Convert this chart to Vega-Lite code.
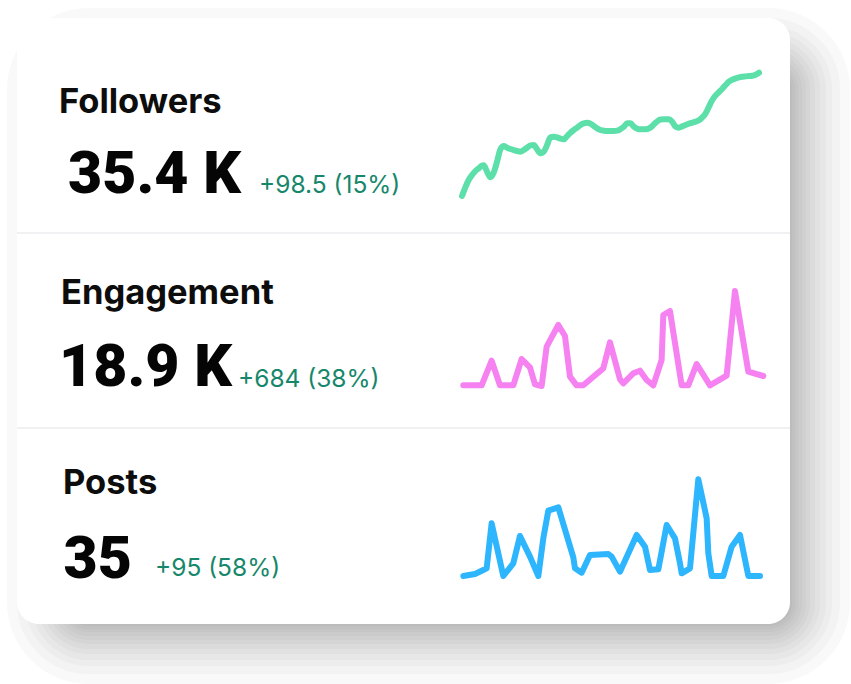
{
  "$schema": "https://vega.github.io/schema/vega-lite/v6.json",
  "description": "Social account summary card: three metrics with their totals, change and a 90-day sparkline.",
  "width": 773,
  "height": 606,
  "autosize": {"type": "none"},
  "padding": {"left": 17, "top": 18, "right": 61, "bottom": 60},
  "background": "#ffffff",
  "config": {"view": {"stroke": null, "fill": null}},
  "datasets": {
    "metrics": [
      {"metric": "Followers", "total": "35.4 K", "change": "+98.5 (15%)"},
      {"metric": "Engagement", "total": "18.9 K", "change": "+684 (38%)"},
      {"metric": "Posts", "total": "35", "change": "+95 (58%)"}
    ],
    "card": [{"card": "summary"}],
    "daily": [
      {"metric": "Followers", "t": 0, "value": 30000},
      {"metric": "Followers", "t": 2, "value": 30380},
      {"metric": "Followers", "t": 4, "value": 30701},
      {"metric": "Followers", "t": 6, "value": 30920},
      {"metric": "Followers", "t": 8, "value": 31095},
      {"metric": "Followers", "t": 10, "value": 31212},
      {"metric": "Followers", "t": 12, "value": 31329},
      {"metric": "Followers", "t": 13, "value": 31343},
      {"metric": "Followers", "t": 15, "value": 31066},
      {"metric": "Followers", "t": 17, "value": 30818},
      {"metric": "Followers", "t": 19, "value": 31022},
      {"metric": "Followers", "t": 21, "value": 31504},
      {"metric": "Followers", "t": 23, "value": 32044},
      {"metric": "Followers", "t": 25, "value": 32190},
      {"metric": "Followers", "t": 27, "value": 32117},
      {"metric": "Followers", "t": 29, "value": 32059},
      {"metric": "Followers", "t": 31, "value": 32015},
      {"metric": "Followers", "t": 33, "value": 31971},
      {"metric": "Followers", "t": 35, "value": 31942},
      {"metric": "Followers", "t": 37, "value": 32015},
      {"metric": "Followers", "t": 39, "value": 32117},
      {"metric": "Followers", "t": 41, "value": 32219},
      {"metric": "Followers", "t": 43, "value": 32234},
      {"metric": "Followers", "t": 45, "value": 32044},
      {"metric": "Followers", "t": 47, "value": 31869},
      {"metric": "Followers", "t": 49, "value": 31942},
      {"metric": "Followers", "t": 51, "value": 32234},
      {"metric": "Followers", "t": 53, "value": 32570},
      {"metric": "Followers", "t": 55, "value": 32599},
      {"metric": "Followers", "t": 57, "value": 32570},
      {"metric": "Followers", "t": 59, "value": 32511},
      {"metric": "Followers", "t": 61, "value": 32482},
      {"metric": "Followers", "t": 63, "value": 32628},
      {"metric": "Followers", "t": 65, "value": 32774},
      {"metric": "Followers", "t": 67, "value": 32891},
      {"metric": "Followers", "t": 69, "value": 32993},
      {"metric": "Followers", "t": 71, "value": 33110},
      {"metric": "Followers", "t": 73, "value": 33183},
      {"metric": "Followers", "t": 75, "value": 33212},
      {"metric": "Followers", "t": 77, "value": 33168},
      {"metric": "Followers", "t": 79, "value": 33066},
      {"metric": "Followers", "t": 81, "value": 32964},
      {"metric": "Followers", "t": 83, "value": 32891},
      {"metric": "Followers", "t": 85, "value": 32862},
      {"metric": "Followers", "t": 87, "value": 32847},
      {"metric": "Followers", "t": 89, "value": 32847},
      {"metric": "Followers", "t": 91, "value": 32847},
      {"metric": "Followers", "t": 93, "value": 32862},
      {"metric": "Followers", "t": 95, "value": 32935},
      {"metric": "Followers", "t": 97, "value": 33037},
      {"metric": "Followers", "t": 99, "value": 33183},
      {"metric": "Followers", "t": 101, "value": 33183},
      {"metric": "Followers", "t": 103, "value": 33037},
      {"metric": "Followers", "t": 105, "value": 32949},
      {"metric": "Followers", "t": 107, "value": 32920},
      {"metric": "Followers", "t": 109, "value": 32920},
      {"metric": "Followers", "t": 111, "value": 32935},
      {"metric": "Followers", "t": 113, "value": 33000},
      {"metric": "Followers", "t": 115, "value": 33140},
      {"metric": "Followers", "t": 117, "value": 33270},
      {"metric": "Followers", "t": 119, "value": 33350},
      {"metric": "Followers", "t": 121, "value": 33358},
      {"metric": "Followers", "t": 124, "value": 33358},
      {"metric": "Followers", "t": 126, "value": 33256},
      {"metric": "Followers", "t": 128, "value": 33037},
      {"metric": "Followers", "t": 130, "value": 32993},
      {"metric": "Followers", "t": 132, "value": 33051},
      {"metric": "Followers", "t": 134, "value": 33110},
      {"metric": "Followers", "t": 136, "value": 33168},
      {"metric": "Followers", "t": 138, "value": 33212},
      {"metric": "Followers", "t": 140, "value": 33256},
      {"metric": "Followers", "t": 142, "value": 33314},
      {"metric": "Followers", "t": 144, "value": 33446},
      {"metric": "Followers", "t": 146, "value": 33621},
      {"metric": "Followers", "t": 148, "value": 33913},
      {"metric": "Followers", "t": 150, "value": 34205},
      {"metric": "Followers", "t": 152, "value": 34409},
      {"metric": "Followers", "t": 154, "value": 34555},
      {"metric": "Followers", "t": 156, "value": 34701},
      {"metric": "Followers", "t": 158, "value": 34862},
      {"metric": "Followers", "t": 160, "value": 35008},
      {"metric": "Followers", "t": 162, "value": 35095},
      {"metric": "Followers", "t": 164, "value": 35154},
      {"metric": "Followers", "t": 166, "value": 35198},
      {"metric": "Followers", "t": 168, "value": 35227},
      {"metric": "Followers", "t": 170, "value": 35241},
      {"metric": "Followers", "t": 172, "value": 35256},
      {"metric": "Followers", "t": 174, "value": 35271},
      {"metric": "Followers", "t": 176, "value": 35314},
      {"metric": "Followers", "t": 178, "value": 35402},

      {"metric": "Engagement", "t": 0, "value": 70},
      {"metric": "Engagement", "t": 11, "value": 70},
      {"metric": "Engagement", "t": 17, "value": 440},
      {"metric": "Engagement", "t": 22, "value": 70},
      {"metric": "Engagement", "t": 30, "value": 70},
      {"metric": "Engagement", "t": 35, "value": 465},
      {"metric": "Engagement", "t": 40, "value": 340},
      {"metric": "Engagement", "t": 43, "value": 85},
      {"metric": "Engagement", "t": 47, "value": 60},
      {"metric": "Engagement", "t": 50, "value": 650},
      {"metric": "Engagement", "t": 57, "value": 975},
      {"metric": "Engagement", "t": 61, "value": 810},
      {"metric": "Engagement", "t": 64, "value": 200},
      {"metric": "Engagement", "t": 68, "value": 70},
      {"metric": "Engagement", "t": 72, "value": 70},
      {"metric": "Engagement", "t": 78, "value": 200},
      {"metric": "Engagement", "t": 84, "value": 325},
      {"metric": "Engagement", "t": 88, "value": 715},
      {"metric": "Engagement", "t": 94, "value": 160},
      {"metric": "Engagement", "t": 96, "value": 100},
      {"metric": "Engagement", "t": 102, "value": 250},
      {"metric": "Engagement", "t": 106, "value": 290},
      {"metric": "Engagement", "t": 110, "value": 150},
      {"metric": "Engagement", "t": 114, "value": 70},
      {"metric": "Engagement", "t": 119, "value": 450},
      {"metric": "Engagement", "t": 120, "value": 1125},
      {"metric": "Engagement", "t": 124, "value": 1185},
      {"metric": "Engagement", "t": 131, "value": 70},
      {"metric": "Engagement", "t": 135, "value": 70},
      {"metric": "Engagement", "t": 140, "value": 390},
      {"metric": "Engagement", "t": 148, "value": 70},
      {"metric": "Engagement", "t": 158, "value": 215},
      {"metric": "Engagement", "t": 163, "value": 1485},
      {"metric": "Engagement", "t": 171, "value": 275},
      {"metric": "Engagement", "t": 180, "value": 210},

      {"metric": "Posts", "t": 0, "value": 0},
      {"metric": "Posts", "t": 7, "value": 0.6},
      {"metric": "Posts", "t": 12, "value": 1.8},
      {"metric": "Posts", "t": 14, "value": 2.3},
      {"metric": "Posts", "t": 17, "value": 15.8},
      {"metric": "Posts", "t": 24, "value": 0},
      {"metric": "Posts", "t": 30, "value": 3.8},
      {"metric": "Posts", "t": 34, "value": 12.0},
      {"metric": "Posts", "t": 40, "value": 5.8},
      {"metric": "Posts", "t": 45, "value": 0},
      {"metric": "Posts", "t": 48, "value": 11.3},
      {"metric": "Posts", "t": 51, "value": 19.6},
      {"metric": "Posts", "t": 57, "value": 20.6},
      {"metric": "Posts", "t": 66, "value": 5.6},
      {"metric": "Posts", "t": 67, "value": 2.3},
      {"metric": "Posts", "t": 71, "value": 1.0},
      {"metric": "Posts", "t": 76, "value": 6.3},
      {"metric": "Posts", "t": 87, "value": 6.6},
      {"metric": "Posts", "t": 89, "value": 5.8},
      {"metric": "Posts", "t": 94, "value": 1.3},
      {"metric": "Posts", "t": 104, "value": 12.3},
      {"metric": "Posts", "t": 109, "value": 8.8},
      {"metric": "Posts", "t": 112, "value": 1.8},
      {"metric": "Posts", "t": 117, "value": 2.0},
      {"metric": "Posts", "t": 122, "value": 15.3},
      {"metric": "Posts", "t": 127, "value": 11.3},
      {"metric": "Posts", "t": 130, "value": 3.8},
      {"metric": "Posts", "t": 131, "value": 0.8},
      {"metric": "Posts", "t": 136, "value": 2.3},
      {"metric": "Posts", "t": 141, "value": 29.0},
      {"metric": "Posts", "t": 146, "value": 17.3},
      {"metric": "Posts", "t": 147, "value": 6.8},
      {"metric": "Posts", "t": 149, "value": 0},
      {"metric": "Posts", "t": 156, "value": 0},
      {"metric": "Posts", "t": 161, "value": 8.8},
      {"metric": "Posts", "t": 166, "value": 12.3},
      {"metric": "Posts", "t": 171, "value": 0},
      {"metric": "Posts", "t": 178, "value": 0}
    ]
  },
  "resolve": {"scale": {"x": "independent", "y": "independent"}},
  "layer": [
    {"data": {"name": "card"}, "mark": {"type": "rect", "fill": "#000", "stroke": "#000", "strokeJoin": "round", "cornerRadius": 22, "opacity": 0.0205, "x": 0, "x2": "width", "y": 0, "y2": "height", "xOffset": 50, "yOffset": 50, "strokeWidth": 4}},
    {"data": {"name": "card"}, "mark": {"type": "rect", "fill": "#000", "stroke": "#000", "strokeJoin": "round", "cornerRadius": 22, "opacity": 0.0205, "x": 0, "x2": "width", "y": 0, "y2": "height", "xOffset": 50, "yOffset": 50, "strokeWidth": 10}},
    {"data": {"name": "card"}, "mark": {"type": "rect", "fill": "#000", "stroke": "#000", "strokeJoin": "round", "cornerRadius": 22, "opacity": 0.0205, "x": 0, "x2": "width", "y": 0, "y2": "height", "xOffset": 50, "yOffset": 50, "strokeWidth": 16}},
    {"data": {"name": "card"}, "mark": {"type": "rect", "fill": "#000", "stroke": "#000", "strokeJoin": "round", "cornerRadius": 22, "opacity": 0.0205, "x": 0, "x2": "width", "y": 0, "y2": "height", "xOffset": 50, "yOffset": 50, "strokeWidth": 24}},
    {"data": {"name": "card"}, "mark": {"type": "rect", "fill": "#000", "stroke": "#000", "strokeJoin": "round", "cornerRadius": 22, "opacity": 0.0205, "x": 0, "x2": "width", "y": 0, "y2": "height", "xOffset": 50, "yOffset": 50, "strokeWidth": 32}},
    {"data": {"name": "card"}, "mark": {"type": "rect", "fill": "#000", "stroke": "#000", "strokeJoin": "round", "cornerRadius": 22, "opacity": 0.0205, "x": 0, "x2": "width", "y": 0, "y2": "height", "xOffset": 50, "yOffset": 50, "strokeWidth": 40}},
    {"data": {"name": "card"}, "mark": {"type": "rect", "fill": "#000", "stroke": "#000", "strokeJoin": "round", "cornerRadius": 22, "opacity": 0.0205, "x": 0, "x2": "width", "y": 0, "y2": "height", "xOffset": 50, "yOffset": 50, "strokeWidth": 50}},
    {"data": {"name": "card"}, "mark": {"type": "rect", "fill": "#000", "stroke": "#000", "strokeJoin": "round", "cornerRadius": 22, "opacity": 0.0205, "x": 0, "x2": "width", "y": 0, "y2": "height", "xOffset": 50, "yOffset": 50, "strokeWidth": 60}},
    {"data": {"name": "card"}, "mark": {"type": "rect", "fill": "#000", "stroke": "#000", "strokeJoin": "round", "cornerRadius": 22, "opacity": 0.0205, "x": 0, "x2": "width", "y": 0, "y2": "height", "xOffset": 50, "yOffset": 50, "strokeWidth": 72}},
    {"data": {"name": "card"}, "mark": {"type": "rect", "fill": "#000", "stroke": "#000", "strokeJoin": "round", "cornerRadius": 22, "opacity": 0.0205, "x": 0, "x2": "width", "y": 0, "y2": "height", "xOffset": 50, "yOffset": 50, "strokeWidth": 84}},
    {"data": {"name": "card"}, "mark": {"type": "rect", "fill": "#000", "stroke": "#000", "strokeJoin": "round", "cornerRadius": 22, "opacity": 0.0205, "x": 0, "x2": "width", "y": 0, "y2": "height", "xOffset": 50, "yOffset": 50, "strokeWidth": 100}},
    {"data": {"name": "card"}, "mark": {"type": "rect", "fill": "#000", "stroke": "#000", "strokeJoin": "round", "cornerRadius": 22, "opacity": 0.0205, "x": 0, "x2": "width", "y": 0, "y2": "height", "xOffset": 50, "yOffset": 50, "strokeWidth": 120}},
    {"data": {"name": "card"}, "mark": {"type": "rect", "fill": "#ffffff", "cornerRadius": 22}},
    {
      "data": {"name": "metrics"},
      "transform": [{"filter": "datum.metric !== 'Posts'"}],
      "mark": {"type": "rule", "color": "#e4e4ea", "strokeWidth": 1.2},
      "encoding": {
        "y": {"field": "metric", "type": "nominal", "axis": null,
              "scale": {"type": "point", "domain": ["Followers", "Engagement"], "range": [215, 410], "padding": 0}}
      }
    },
    {
      "data": {"name": "metrics"},
      "mark": {"type": "text", "align": "left", "baseline": "alphabetic", "font": "Inter", "fontSize": 34.5, "fontWeight": 700, "color": "#0d0d0d"},
      "encoding": {
        "text": {"field": "metric"},
        "x": {"field": "metric", "type": "nominal", "axis": null,
              "scale": {"type": "point", "domain": ["Followers", "Engagement", "Posts"], "range": [42, 46], "padding": 0}},
        "y": {"field": "metric", "type": "nominal", "axis": null,
              "scale": {"type": "point", "domain": ["Followers", "Engagement", "Posts"], "range": [95, 476], "padding": 0}}
      }
    },
    {
      "data": {"name": "metrics"},
      "mark": {"type": "text", "align": "left", "baseline": "alphabetic", "font": "Roboto", "fontSize": 59, "fontWeight": 900, "color": "#050505"},
      "encoding": {
        "text": {"field": "total"},
        "x": {"field": "metric", "type": "nominal", "axis": null,
              "scale": {"type": "point", "domain": ["Engagement", "Posts", "Followers"], "range": [42, 51], "padding": 0}},
        "y": {"field": "metric", "type": "nominal", "axis": null,
              "scale": {"type": "point", "domain": ["Followers", "Engagement", "Posts"], "range": [175, 560], "padding": 0}}
      }
    },
    {
      "data": {"name": "metrics"},
      "transform": [{"filter": "datum.metric !== 'Posts'"}],
      "mark": {"type": "text", "align": "left", "baseline": "alphabetic", "font": "Inter", "fontSize": 24.5, "fontWeight": 400, "color": "#17876b"},
      "encoding": {
        "text": {"field": "change"},
        "x": {"field": "metric", "type": "nominal", "axis": null,
              "scale": {"type": "point", "domain": ["Engagement", "Followers"], "range": [221, 242], "padding": 0}},
        "y": {"field": "metric", "type": "nominal", "axis": null,
              "scale": {"type": "point", "domain": ["Followers", "Engagement"], "range": [175, 369], "padding": 0}}
      }
    },
    {
      "data": {"name": "metrics"},
      "transform": [{"filter": "datum.metric === 'Posts'"}],
      "mark": {"type": "text", "align": "left", "baseline": "alphabetic", "font": "Inter", "fontSize": 24.5, "fontWeight": 400, "color": "#17876b"},
      "encoding": {
        "text": {"field": "change"},
        "x": {"field": "metric", "type": "nominal", "axis": null,
              "scale": {"type": "point", "domain": ["Posts"], "range": [138, 138], "padding": 0}},
        "y": {"field": "metric", "type": "nominal", "axis": null,
              "scale": {"type": "point", "domain": ["Posts"], "range": [558, 558], "padding": 0}}
      }
    },
    {
      "data": {"name": "daily"},
      "transform": [{"filter": "datum.metric === 'Followers'"}],
      "mark": {"type": "line", "color": "#5ddfaa", "strokeWidth": 6, "strokeCap": "round", "strokeJoin": "round", "interpolate": "monotone"},
      "encoding": {
        "x": {"field": "t", "type": "quantitative", "axis": null,
              "scale": {"domain": [0, 178], "range": [445, 742], "nice": false, "zero": false}},
        "y": {"field": "value", "type": "quantitative", "axis": null,
              "scale": {"domain": [30000, 35402], "range": [178, 54.7], "nice": false, "zero": false}}
      }
    },
    {
      "data": {"name": "daily"},
      "transform": [{"filter": "datum.metric === 'Engagement'"}],
      "mark": {"type": "line", "color": "#f582f0", "strokeWidth": 6, "strokeCap": "round", "strokeJoin": "round"},
      "encoding": {
        "x": {"field": "t", "type": "quantitative", "axis": null,
              "scale": {"domain": [0, 180], "range": [446.3, 746.3], "nice": false, "zero": false}},
        "y": {"field": "value", "type": "quantitative", "axis": null,
              "scale": {"domain": [60, 1485], "range": [368, 273], "nice": false, "zero": false}}
      }
    },
    {
      "data": {"name": "daily"},
      "transform": [{"filter": "datum.metric === 'Posts'"}],
      "mark": {"type": "line", "color": "#2db5fe", "strokeWidth": 6, "strokeCap": "round", "strokeJoin": "round"},
      "encoding": {
        "x": {"field": "t", "type": "quantitative", "axis": null,
              "scale": {"domain": [0, 178], "range": [446.3, 743], "nice": false, "zero": false}},
        "y": {"field": "value", "type": "quantitative", "axis": null,
              "scale": {"domain": [0, 29], "range": [558, 461.3], "nice": false, "zero": false}}
      }
    }
  ]
}
